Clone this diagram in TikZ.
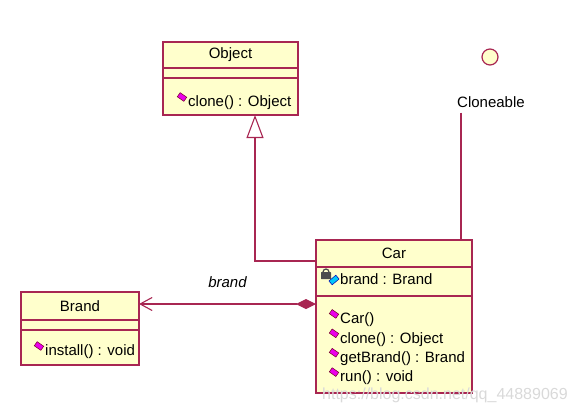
\documentclass[tikz,border=0pt]{standalone}
\usepackage{fontspec}
\setmainfont{Liberation Sans}
\usetikzlibrary{arrows.meta,positioning,shapes.geometric,calc}
\definecolor{umlline}{RGB}{168,38,82}
\definecolor{umlfill}{RGB}{255,255,204}
\definecolor{opcol}{RGB}{235,0,235}
\definecolor{attcol}{RGB}{0,200,250}
\newcommand\umlfont{\fontsize{15}{18}\selectfont}
\tikzset{
  part/.style    = {rectangle, draw=umlline, line width=1.3pt, fill=umlfill,
                    inner sep=0pt, outer sep=0pt, minimum width=#1, font=\umlfont},
  member/.style  = {anchor=west, inner sep=0pt, font=\umlfont},
  opicon/.style  = {rectangle, draw=purple!60!black, fill=opcol, line width=0.5pt,
                    inner sep=0pt, minimum width=8pt, minimum height=5pt, rotate=-35},
  atticon/.style = {rectangle, draw=blue!70!black, fill=attcol, line width=0.5pt,
                    inner sep=0pt, minimum width=9pt, minimum height=5pt, rotate=40},
  link/.style    = {draw=umlline, line width=1.1pt},
  gen/.style     = {link, -{Triangle[open, length=23pt, width=17pt, line width=1.1pt]}},
  comp/.style    = {link, {Diamond[length=20pt, width=10pt]}-{Straight Barb[length=12pt, width=13pt, line width=1.1pt]}},
  rolelab/.style = {font=\umlfont\itshape, inner sep=0pt},
}

\begin{document}
\begin{tikzpicture}[x=1pt, y=-1pt]
  \useasboundingbox (0,0) rectangle (576,408);

  % Object
  \node[part=135, minimum height=26] (objname) at (230.5,55) {Object};
  \node[part=135, minimum height=10, below=0pt of objname] (objattr) {};
  \node[part=135, minimum height=37, below=0pt of objattr] (objops) {};
  \node[member] (objop1) at (188,103) {clone() : Object};
  \node[opicon] at ($(objop1.west)+(-6,-6)$) {};

  % Car
  \node[part=156, minimum height=27] (carname) at (394,253.5) {Car};
  \node[part=156, minimum height=29, below=0pt of carname] (carattr) {};
  \node[part=156, minimum height=97, below=0pt of carattr] (carops) {};
  \node[member] (caratt1) at (340,279) {brand : Brand};
  % lock + attribute mark
  \fill[gray!60!black, rounded corners=0.5pt] ($(caratt1.west)+(-19,-7)$) rectangle ++(10,7);
  \draw[gray!60!black, line width=1.2pt] ($(caratt1.west)+(-17,-7)$) arc[start angle=180, end angle=0, radius=3pt];
  \node[atticon] at ($(caratt1.west)+(-6,1)$) {};
  \foreach \t [count=\i] in {{Car()}, {clone() : Object}, {getBrand() : Brand}, {run() : void}} {
    \node[member] (carop\i) at (340,300.5+19.4*\i) {\t};
    \node[opicon] at ($(carop\i.west)+(-6,-6)$) {};
  }

  % Brand
  \node[part=118, minimum height=28] (brandname) at (80,306) {Brand};
  \node[part=118, minimum height=10, below=0pt of brandname] (brandattr) {};
  \node[part=118, minimum height=35, below=0pt of brandattr] (brandops) {};
  \node[member] (brandop1) at (45,352) {install() : void};
  \node[opicon] at ($(brandop1.west)+(-6,-6)$) {};

  % Cloneable
  \node[circle, draw=umlline, line width=1.2pt, fill=umlfill, minimum size=16pt, inner sep=0pt] (cloneable) at (490,57) {};
  \node[font=\umlfont, inner sep=0pt] (clname) at (491,102) {Cloneable};
  \coordinate (cltail) at ($(clname.south west)+(4,5)$);
  \draw[link] (cltail) -- (cltail |- carname.north);

  % relations
  \coordinate (genstart) at ($(carname.south west)+(0,-6)$);
  \coordinate (gentip) at ($(objops.south west)+(92,0)$);
  \draw[gen] (genstart) -| (gentip);
  \coordinate (compstart) at ($(carops.north west)+(0,8)$);
  \draw[comp] (compstart) -- node[rolelab, above=16pt] {brand} (compstart -| brandname.east);

  \node[font=\fontsize{16}{18}\selectfont, text=gray!30, inner sep=0pt, anchor=west] (mark) at (322,395) {https://blog.csdn.net/qq\_44889069};
\end{tikzpicture}
\end{document}
